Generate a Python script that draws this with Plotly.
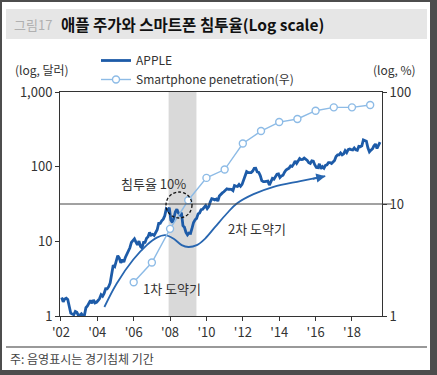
import plotly.graph_objects as go
import math

# ---------------- data ----------------
apple_years = list(range(2002, 2020))
apple_monthly = {
    2002: [1.77, 1.55, 1.69, 1.73, 1.66, 1.27, 1.09, 1.06, 1.04, 1.15, 1.12, 1.02],
    2003: [1.03, 1.07, 1.01, 1.02, 1.29, 1.36, 1.50, 1.62, 1.48, 1.64, 1.50, 1.53],
    2004: [1.61, 1.71, 1.93, 1.84, 2.01, 2.32, 2.31, 2.47, 2.77, 3.74, 4.79, 4.60],
    2005: [5.49, 6.43, 5.95, 5.15, 5.72, 5.26, 6.09, 6.71, 7.66, 8.21, 9.66, 10.27],
    2006: [10.79, 9.76, 8.96, 10.06, 8.54, 8.18, 9.69, 9.67, 10.99, 11.5, 13.1, 12.1],
    2007: [12.4, 12.0, 13.3, 14.3, 17.4, 17.4, 18.8, 19.8, 21.9, 27.1, 26.0, 28.3],
    2008: [19.3, 17.8, 20.5, 24.8, 26.9, 23.9, 22.7, 24.2, 16.2, 15.4, 13.2, 12.2],
    2009: [12.9, 12.8, 15.0, 17.9, 19.4, 20.3, 23.3, 24.0, 26.5, 26.9, 28.5, 30.1],
    2010: [27.4, 29.2, 33.6, 37.3, 36.7, 35.9, 36.8, 34.7, 40.5, 43.0, 44.5, 46.1],
    2011: [48.5, 50.5, 49.8, 49.8, 49.7, 47.9, 55.8, 54.98, 54.47, 57.8, 54.6, 57.9],
    2012: [65.2, 77.5, 85.7, 83.4, 82.5, 83.4, 87.3, 95.0, 95.3, 84.9, 83.6, 76.0],
    2013: [65.1, 63.1, 63.2, 63.3, 64.2, 56.6, 64.6, 69.6, 68.1, 74.7, 79.4, 80.1],
    2014: [71.5, 75.2, 76.7, 84.3, 90.4, 92.9, 95.6, 102.5, 100.8, 108.0, 118.9, 110.4],
    2015: [117.2, 128.5, 124.4, 125.2, 130.3, 125.4, 121.3, 112.8, 110.3, 119.5, 118.3, 105.3],
    2016: [97.3, 96.7, 109.0, 93.7, 99.9, 95.6, 104.2, 106.1, 113.1, 113.5, 110.5, 115.8],
    2017: [121.4, 137.0, 143.7, 143.65, 152.8, 144.0, 148.7, 164.0, 154.1, 169.0, 171.9, 169.2],
    2018: [167.4, 178.1, 167.8, 165.3, 186.9, 185.1, 190.3, 227.6, 225.7, 218.9, 178.6, 157.7],
    2019: [166.4, 173.2, 189.95, 200.7, 175.1, 197.9, 213.0],
}

phone_years = list(range(2006, 2020))
phone_pen = [2.0, 3.0, 6.0, 10.8, 17.1, 20.3, 34.7, 44.8, 53.9, 57.4, 68.1, 72.9, 72.9, 76.5]

# hand-drawn "도약기" trend curve (left axis units)
trend_x = [2004.39, 2005.06, 2005.98, 2006.72, 2007.27, 2007.72, 2008.18, 2008.64,
           2009.01, 2009.47, 2009.93, 2010.48, 2011.12, 2011.67, 2012.59, 2013.69,
           2015.16, 2016.53]
trend_y = [1.32, 2.71, 5.7, 8.9, 11.2, 12.1, 10.9, 8.9,
           8.4, 8.9, 10.9, 15.6, 23.6, 32.1, 42.8, 53.7,
           64.0, 74.7]

recession = (2007.92, 2009.45)
threshold_pct = 10
x_ticks = list(range(2002, 2019, 2))
x_ticktext = ["'%02d" % (y % 100) for y in x_ticks]
y_ticks = [1, 10, 100, 1000]
y_ticktext = ["1", "10", "100", "1,000"]
y2_ticks = [1, 10, 100]
y2_ticktext = ["1", "10", "100"]

# ---------------- build ----------------
apple_x, apple_y = [], []
for yr in apple_years:
    for i, v in enumerate(apple_monthly[yr]):
        apple_x.append(yr + (i + 0.5) / 12)
        apple_y.append(v)

W, H = 437, 375
ML, MR, MT, MB = 60, 55, 92, 59
PW, PH = W - ML - MR, H - MT - MB


def pxx(px):
    return (px - ML) / PW


def pxy(py):
    return (H - MB - py) / PH


KR = "Noto Sans CJK KR"
DARK = "#1d5ba8"
LIGHT = "#8dbbe6"
TREND = "#2866b0"

fig = go.Figure()
fig.add_trace(go.Scatter(x=apple_x, y=apple_y, name="APPLE", mode="lines",
                         line=dict(color=DARK, width=2.8), yaxis="y"))
fig.add_trace(go.Scatter(x=phone_years, y=phone_pen, name="Smartphone penetration(우)",
                         mode="lines+markers", yaxis="y2",
                         line=dict(color=LIGHT, width=1.4),
                         marker=dict(symbol="circle", size=7, color="white",
                                     line=dict(color=LIGHT, width=1.4))))
fig.add_trace(go.Scatter(x=trend_x, y=trend_y, mode="lines", showlegend=False,
                         line=dict(color=TREND, width=1.8, shape="spline"), yaxis="y",
                         hoverinfo="skip"))

shapes = [
    dict(type="rect", xref="paper", yref="paper", x0=pxx(2), x1=pxx(430), y0=pxy(370), y1=pxy(2),
         fillcolor="white", line=dict(width=0), layer="below"),
    dict(type="rect", xref="paper", yref="paper", x0=pxx(6), x1=pxx(427), y0=pxy(39), y1=pxy(9),
         fillcolor="#e6e6e6", line=dict(width=0), layer="below"),
    dict(type="rect", xref="x", yref="paper", x0=recession[0], x1=recession[1], y0=0, y1=1,
         fillcolor="#d9d9d9", line=dict(width=0), layer="below"),
    dict(type="line", xref="paper", yref="y2", x0=0, x1=1.03, y0=threshold_pct, y1=threshold_pct,
         line=dict(color="#444", width=1)),
    # dashed highlight circle (paper coordinates are linear, so it stays round)
    dict(type="circle", xref="paper", yref="paper",
         x0=pxx(166), x1=pxx(192), y0=pxy(218), y1=pxy(192), layer="above",
         line=dict(color="#111", width=1.3, dash="3px,2px")),
    dict(type="line", xref="paper", yref="paper", x0=pxx(6), x1=pxx(427), y0=pxy(347), y1=pxy(347),
         line=dict(color="#777", width=1.5)),
]

annotations = [
    dict(xref="paper", yref="paper", x=pxx(12), y=pxy(24), xanchor="left", yanchor="middle",
         text="그림17", showarrow=False, font=dict(family=KR, size=13, color="#b0b0b0")),
    dict(xref="paper", yref="paper", x=pxx(59), y=pxy(24), xanchor="left", yanchor="middle",
         text="<b>애플 주가와 스마트폰 침투율(Log scale)</b>", showarrow=False,
         font=dict(family=KR, size=15.5, color="#111")),
    dict(xref="paper", yref="paper", x=pxx(42), y=pxy(69), xanchor="center", yanchor="middle",
         text="(log, 달러)", showarrow=False, font=dict(family=KR, size=12, color="#333")),
    dict(xref="paper", yref="paper", x=pxx(394), y=pxy(69), xanchor="center", yanchor="middle",
         text="(log, %)", showarrow=False, font=dict(family=KR, size=12, color="#333")),
    dict(xref="paper", yref="paper", x=pxx(153), y=pxy(183), xanchor="center", yanchor="middle",
         text="침투율 10%", showarrow=False, font=dict(family=KR, size=13, color="#333")),
    dict(xref="paper", yref="paper", x=pxx(172), y=pxy(288), xanchor="center", yanchor="middle",
         text="1차 도약기", showarrow=False, font=dict(family=KR, size=13, color="#333")),
    dict(xref="paper", yref="paper", x=pxx(257), y=pxy(228), xanchor="center", yanchor="middle",
         text="2차 도약기", showarrow=False, font=dict(family=KR, size=13, color="#333")),
    dict(xref="paper", yref="paper", x=pxx(8), y=pxy(358), xanchor="left", yanchor="middle",
         text="주: 음영표시는 경기침체 기간", showarrow=False,
         font=dict(family=KR, size=12, color="#444")),
    dict(xref="x", yref="y", x=trend_x[-1], y=math.log10(trend_y[-1]), text="",
         showarrow=True, ax=-14, ay=3, arrowhead=2, arrowsize=1, arrowwidth=1.8,
         arrowcolor=TREND),
]

fig.update_layout(
    width=W, height=H,
    margin=dict(l=ML, r=MR, t=MT, b=MB, pad=0),
    paper_bgcolor="#4d4d4d",
    plot_bgcolor="rgba(0,0,0,0)",
    font=dict(family=KR, size=13, color="#333"),
    shapes=shapes,
    annotations=annotations,
    showlegend=True,
    legend=dict(x=pxx(96), y=pxy(46), xanchor="left", yanchor="top",
                bgcolor="rgba(0,0,0,0)", font=dict(family=KR, size=12, color="#333"),
                tracegroupgap=0, itemwidth=30),
    xaxis=dict(range=[2001.95, 2019.65], tickvals=x_ticks, ticktext=x_ticktext,
               showgrid=False, zeroline=False, showline=True, linecolor="#333", linewidth=1,
               mirror=True, ticks="outside", ticklen=4, tickcolor="#333",
               tickfont=dict(family=KR, size=13, color="#333")),
    yaxis=dict(type="log", range=[0, 3], tickvals=y_ticks, ticktext=y_ticktext,
               showgrid=False, zeroline=False, showline=True, linecolor="#333", linewidth=1,
               ticks="outside", ticklen=4, tickcolor="#333",
               tickfont=dict(family=KR, size=13, color="#333")),
    yaxis2=dict(type="log", range=[0, 2], tickvals=y2_ticks, ticktext=y2_ticktext,
                overlaying="y", side="right",
                showgrid=False, zeroline=False, showline=True, linecolor="#333", linewidth=1,
                ticks="outside", ticklen=4, tickcolor="#333",
                tickfont=dict(family=KR, size=13, color="#333")),
)

fig.write_html("out.html", config={"displayModeBar": False},
               post_script="document.body.style.margin='0px';document.body.style.padding='0px';"
                           "document.body.style.overflow='hidden';")
